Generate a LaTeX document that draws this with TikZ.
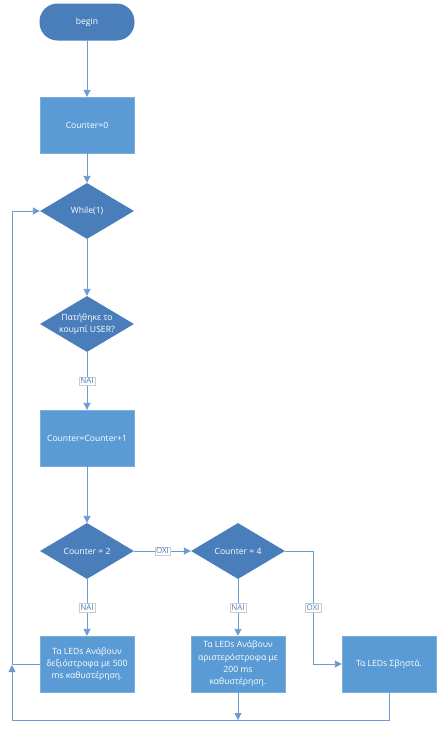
\documentclass[tikz,border=0pt]{standalone}
\usepackage{fontspec}
\setmainfont{Open Sans}
\usetikzlibrary{shapes.geometric,arrows.meta,calc}
\definecolor{dkb}{HTML}{4A7EBB}
\definecolor{ltb}{HTML}{5B9BD5}
\definecolor{lnc}{HTML}{6A9BD2}
\begin{document}
\begin{tikzpicture}[x=1pt,y=-1pt,
  base/.style={text=white,font=\fontsize{8.6}{12.3}\selectfont,align=center,inner sep=0pt},
  term/.style={base,rectangle,fill=dkb,rounded corners=18pt,minimum width=95pt,minimum height=37pt},
  proc/.style={base,rectangle,fill=ltb,draw=ltb!80!white,line width=0.4pt,minimum width=94pt,minimum height=56pt},
  dec/.style={base,diamond,fill=dkb,minimum width=94pt,minimum height=56pt,aspect=1.68},
  arr/.style={draw=lnc,line width=0.9pt,-{Triangle[length=7pt,width=7pt]}},
  ln/.style={draw=lnc,line width=0.9pt},
  lbl/.style={fill=white,draw=black!20,line width=0.3pt,text=dkb,font=\fontsize{8}{9}\selectfont,inner sep=1.3pt}]
\useasboundingbox (0,0) rectangle (443,734);
\node[term] (begin) at (87,22) {begin};
\node[proc] (c0) at (87,125) {Counter=0};
\node[dec] (wh) at (87,211) {While(1)};
\node[dec] (usr) at (87,324) {Πατήθηκε το\\κουμπί USER?};
\node[proc] (inc) at (87,438) {Counter=Counter+1};
\node[dec] (c2) at (87,551) {Counter = 2};
\node[dec] (c4) at (238,551) {Counter = 4};
\node[proc] (led1) at (87,664) {Τα LEDs Ανάβουν\\δεξιόστροφα με 500\\ms καθυστέρηση.};
\node[proc] (led2) at (238,664) {Τα LEDs Ανάβουν\\αριστερόστροφα με\\200 ms\\καθυστέρηση.};
\node[proc] (led3) at (389,664) {Τα LEDs Σβηστά.};
\coordinate (lt) at (12,211);
\coordinate (lb) at (12,720);
\coordinate (lup) at (12,665);
\coordinate (rb) at (389,720);
\coordinate (mb) at (238,720);
\coordinate (rk) at (313,664);
\draw[arr] (begin) -- (c0);
\draw[arr] (c0) -- (wh);
\draw[arr] (wh) -- (usr);
\draw[arr] (usr) -- node[lbl]{NAI} (inc);
\draw[arr] (inc) -- (c2);
\draw[arr] (c2) -- node[lbl]{OXI} (c4);
\draw[arr] (c2) -- node[lbl]{NAI} (led1);
\draw[arr] (c4) -- node[lbl]{NAI} (led2);
\draw[arr] (c4.east) -| node[lbl,pos=0.75]{OXI} (rk) -- (led3.west);
\draw[arr] (led1.west) -| (lt) -- (wh.west);
\draw[arr] (led3.south) -- (rb) -- (lb) -- (lup);
\draw[arr] (led2.south) -- (mb);
\end{tikzpicture}
\end{document}
